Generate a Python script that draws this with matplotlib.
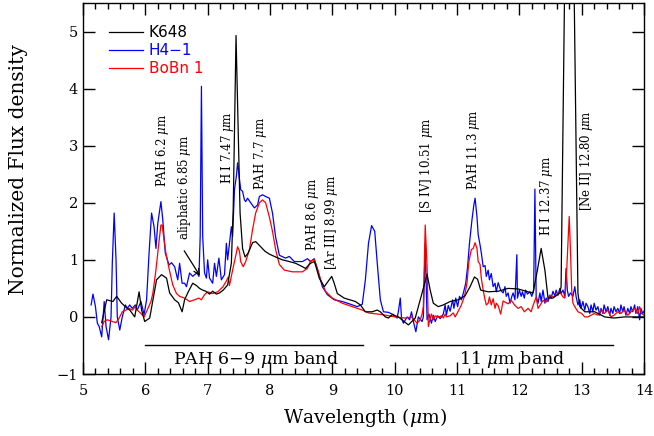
import matplotlib
matplotlib.use("Agg")
import matplotlib.pyplot as plt
from matplotlib.ticker import MultipleLocator, NullLocator

plt.rcParams['font.family'] = ['DejaVu Serif']
plt.rcParams['mathtext.fontset'] = 'dejavuserif'

# ---- K648 ----
k648_wl = [5.30, 5.38, 5.48, 5.54, 5.62, 5.70, 5.75, 5.83, 5.90, 5.94, 5.99, 6.07,
           6.18, 6.26, 6.34, 6.39, 6.47, 6.53, 6.59, 6.63, 6.68, 6.76, 6.82, 6.87,
           6.92, 6.97, 7.03, 7.08, 7.14, 7.19, 7.25, 7.32, 7.38, 7.41, 7.455, 7.52,
           7.56, 7.60, 7.65, 7.72, 7.77, 7.85, 7.92, 7.99, 8.09, 8.20, 8.31, 8.41,
           8.52, 8.57, 8.65, 8.71, 8.73, 8.79, 8.87, 8.95, 8.99, 9.03, 9.08, 9.19,
           9.37, 9.45, 9.53, 9.64, 9.72, 9.77, 9.85, 9.90, 9.96, 10.06, 10.22, 10.33,
           10.41, 10.52, 10.57, 10.62, 10.70, 10.78, 10.89, 11.02, 11.13, 11.21, 11.28,
           11.33, 11.38, 11.50, 11.66, 11.82, 11.98, 12.14, 12.22, 12.29, 12.35, 12.41,
           12.46, 12.54, 12.65, 12.67, 12.80, 12.94, 12.97, 13.05, 13.21, 13.37, 13.52,
           13.68, 13.84, 14.00]
k648_flux = [-0.10, 0.30, 0.27, 0.36, 0.24, 0.16, 0.12, 0.00, 0.44, 0.12, -0.08, -0.02,
             0.65, 0.74, 0.68, 0.42, 0.30, 0.25, 0.09, 0.30, 0.42, 0.59, 0.55, 0.50,
             0.47, 0.45, 0.40, 0.45, 0.40, 0.42, 0.47, 0.56, 0.94, 1.90, 4.93, 1.82,
             1.20, 1.05, 1.12, 1.30, 1.32, 1.23, 1.15, 1.10, 1.05, 1.00, 0.97, 0.94,
             0.88, 0.85, 0.94, 0.97, 0.91, 0.68, 0.53, 0.65, 0.71, 0.59, 0.41, 0.33,
             0.27, 0.21, 0.09, 0.09, 0.12, 0.09, 0.00, -0.02, 0.04, 0.00, -0.14, -0.02,
             0.30, 0.75, 0.47, 0.24, 0.18, 0.21, 0.27, 0.30, 0.37, 0.53, 0.70,
             0.66, 0.47, 0.44, 0.45, 0.50, 0.49, 0.44, 0.42, 0.82, 1.20, 0.82,
             0.33, 0.33, 0.42, 0.53, 12.60, 0.42, 0.18, 0.09, 0.09, 0.00, -0.02,
             0.00, 0.00, 0.00]

# ---- H4-1 ----
h41_wl = [5.13, 5.16, 5.20, 5.23, 5.26, 5.30, 5.34, 5.37, 5.41, 5.45, 5.47, 5.50,
          5.53, 5.55, 5.59, 5.63, 5.68, 5.71, 5.75, 5.79, 5.84, 5.87, 5.93, 5.98,
          6.02, 6.06, 6.10, 6.14, 6.17, 6.20, 6.25, 6.28, 6.32, 6.38, 6.42, 6.47,
          6.52, 6.55, 6.59, 6.63, 6.66, 6.71, 6.76, 6.79, 6.83, 6.86, 6.88, 6.90,
          6.92, 6.95, 6.98, 7.00, 7.03, 7.08, 7.11, 7.14, 7.18, 7.22, 7.27, 7.30,
          7.32, 7.35, 7.38, 7.40, 7.43, 7.46, 7.48, 7.53, 7.56, 7.59, 7.61, 7.64,
          7.69, 7.75, 7.80, 7.83, 7.88, 7.93, 7.99, 8.04, 8.09, 8.15, 8.25, 8.31,
          8.39, 8.52, 8.60, 8.65, 8.71, 8.76, 8.84, 8.92, 9.03, 9.16, 9.27, 9.40,
          9.48, 9.53, 9.58, 9.63, 9.68, 9.72, 9.77, 9.82, 9.90, 9.98, 10.04, 10.06,
          10.09, 10.11, 10.14, 10.20, 10.24, 10.27, 10.30, 10.34, 10.38, 10.44, 10.46,
          10.49, 10.52, 10.55, 10.59, 10.62, 10.65, 10.69, 10.73, 10.78, 10.81, 10.83,
          10.86, 10.89, 10.93, 10.95, 10.98, 11.01, 11.04, 11.07, 11.10, 11.14, 11.17,
          11.20, 11.24, 11.27, 11.29, 11.32, 11.34, 11.37, 11.39, 11.42, 11.45, 11.47,
          11.50, 11.52, 11.55, 11.58, 11.61, 11.63, 11.66, 11.70, 11.74, 11.77, 11.79,
          11.82, 11.85, 11.88, 11.90, 11.93, 11.96, 11.97, 12.00, 12.03, 12.05, 12.08,
          12.10, 12.13, 12.17, 12.20, 12.23, 12.25, 12.27, 12.30, 12.33, 12.35, 12.38,
          12.41, 12.43, 12.46, 12.49, 12.51, 12.54, 12.57, 12.59, 12.62, 12.65, 12.67,
          12.70, 12.73, 12.75, 12.77, 12.79, 12.82, 12.86, 12.89, 12.91, 12.94, 12.97,
          12.99, 13.02, 13.05, 13.07, 13.10, 13.13, 13.15, 13.18, 13.20, 13.23, 13.26,
          13.29, 13.31, 13.34, 13.36, 13.39, 13.42, 13.45, 13.47, 13.50, 13.52, 13.55,
          13.58, 13.61, 13.63, 13.66, 13.68, 13.71, 13.74, 13.77, 13.79, 13.82, 13.85,
          13.87, 13.90, 13.93, 13.95, 13.98, 14.00]
h41_flux = [0.21, 0.40, 0.18, -0.11, -0.17, -0.35, 0.27, -0.17, -0.40, 0.00, 0.94, 1.82,
            1.00, 0.00, -0.23, 0.00, 0.21, 0.15, 0.21, 0.15, 0.21, 0.12, 0.27, 0.04,
            0.30, 1.12, 1.82, 1.58, 1.20, 1.64, 2.02, 1.70, 1.12, 0.91, 0.95, 0.88,
            0.65, 0.94, 0.59, 0.59, 0.53, 0.77, 0.71, 0.74, 0.77, 0.71, 1.41, 4.04,
            1.41, 0.77, 0.68, 1.00, 0.68, 0.59, 0.94, 0.71, 1.03, 0.65, 0.74, 1.29,
            1.00, 1.29, 1.58, 1.41, 2.23, 2.46, 2.70, 2.23, 2.20, 2.05, 2.02, 2.08,
            2.00, 1.91, 1.96, 2.11, 2.14, 2.11, 2.08, 1.82, 1.40, 1.08, 1.03, 1.06,
            0.97, 0.97, 1.02, 0.97, 1.02, 0.84, 0.53, 0.39, 0.30, 0.27, 0.23, 0.18,
            0.22, 0.65, 1.29, 1.60, 1.50, 0.95, 0.30, 0.09, 0.08, 0.04, -0.02, 0.10,
            0.33, -0.02, -0.11, 0.00, -0.05, 0.09, -0.08, -0.26, 0.00, -0.08, 0.00,
            1.29, -0.05, 0.05, -0.11, 0.03, -0.08, 0.02, -0.03, 0.05, 0.21, 0.03,
            0.20, 0.10, 0.30, 0.15, 0.33, 0.18, 0.36, 0.30, 0.41, 0.59, 0.88,
            1.29, 1.70, 1.96, 2.08, 1.76, 1.44, 1.26, 1.12, 0.88, 0.90, 0.71,
            0.82, 0.65, 0.76, 0.53, 0.59, 0.44, 0.60, 0.47, 0.42, 0.53, 0.36,
            0.42, 0.24, 0.36, 0.42, 0.30, 1.09, 0.33, 0.47, 0.36, 0.44, 0.33,
            0.47, 0.40, 0.44, 0.36, 0.47, 2.24, 0.36, 0.24, 0.42, 0.27, 0.47,
            0.24, 0.33, 0.27, 0.38, 0.33, 0.45, 0.36, 0.47, 0.38, 0.50, 0.41,
            0.47, 0.36, 0.85, 0.47, 0.36, 0.42, 0.36, 0.53, 0.36, 0.21, 0.30,
            0.15, 0.27, 0.12, 0.24, 0.18, 0.06, 0.21, 0.09, 0.24, 0.12, 0.18,
            0.03, 0.15, 0.06, 0.21, 0.09, 0.18, 0.03, 0.15, 0.06, 0.18, 0.09,
            0.15, 0.06, 0.21, 0.09, 0.18, 0.03, 0.15, 0.06, 0.18, 0.09, 0.21,
            0.06, 0.18, -0.05, 0.15, 0.06, 0.10]

# ---- BoBn 1 ----
bobn1_wl = [5.30, 5.34, 5.39, 5.47, 5.53, 5.58, 5.63, 5.69, 5.74, 5.79, 5.84, 5.87,
            5.93, 5.98, 6.03, 6.09, 6.12, 6.17, 6.21, 6.25, 6.27, 6.30, 6.33, 6.38,
            6.44, 6.50, 6.55, 6.63, 6.71, 6.79, 6.86, 6.90, 6.95, 7.00, 7.08, 7.16,
            7.24, 7.30, 7.33, 7.35, 7.40, 7.46, 7.48, 7.51, 7.53, 7.57, 7.61, 7.67,
            7.72, 7.77, 7.83, 7.88, 7.93, 7.99, 8.04, 8.09, 8.15, 8.23, 8.36, 8.52,
            8.60, 8.65, 8.71, 8.76, 8.81, 8.89, 9.00, 9.16, 9.32, 9.48, 9.58, 9.80,
            10.01, 10.17, 10.27, 10.36, 10.41, 10.44, 10.46, 10.49, 10.52, 10.54, 10.57,
            10.59, 10.62, 10.65, 10.70, 10.76, 10.78, 10.81, 10.83, 10.89, 10.94, 10.97,
            11.02, 11.07, 11.12, 11.16, 11.19, 11.23, 11.26, 11.29, 11.32, 11.34, 11.37,
            11.39, 11.42, 11.45, 11.47, 11.50, 11.52, 11.55, 11.58, 11.61, 11.63, 11.66,
            11.70, 11.74, 11.77, 11.82, 11.87, 11.93, 11.98, 12.03, 12.08, 12.14, 12.19,
            12.22, 12.27, 12.30, 12.33, 12.38, 12.43, 12.49, 12.54, 12.59, 12.65, 12.70,
            12.73, 12.75, 12.78, 12.80, 12.82, 12.84, 12.86, 12.89, 12.94, 13.00, 13.05,
            13.10, 13.15, 13.20, 13.26, 13.31, 13.36, 13.42, 13.47, 13.52, 13.58, 13.63,
            13.68, 13.74, 13.79, 13.85, 13.90, 13.93, 13.96, 14.00]
bobn1_flux = [-0.17, -0.08, -0.05, -0.08, -0.10, -0.02, 0.09, 0.12, 0.15, 0.12, 0.18, 0.12,
              0.06, 0.00, 0.12, 0.27, 0.41, 0.82, 1.23, 1.61, 1.61, 1.35, 1.12, 0.85,
              0.56, 0.41, 0.36, 0.33, 0.27, 0.30, 0.33, 0.30, 0.39, 0.44, 0.41, 0.44,
              0.52, 0.63, 0.70, 0.55, 0.82, 1.12, 1.23, 1.15, 0.97, 0.88, 0.97, 1.18,
              1.53, 1.82, 2.00, 2.05, 2.00, 1.75, 1.50, 1.18, 0.92, 0.82, 0.79, 0.79,
              0.85, 0.98, 1.00, 0.85, 0.66, 0.45, 0.33, 0.24, 0.18, 0.12, 0.07, 0.04,
              0.00, -0.02, 0.00, -0.11, -0.05, 0.05, 0.18, 1.61, 0.88, -0.17, -0.02,
              0.05, -0.05, 0.02, 0.00, 0.02, -0.02, 0.05, 0.00, 0.02, 0.07, 0.00,
              0.10, 0.21, 0.36, 0.59, 0.97, 1.18, 1.20, 1.30, 1.20, 0.97, 0.92,
              0.68, 0.47, 0.30, 0.21, 0.24, 0.35, 0.21, 0.32, 0.15, 0.24, 0.20,
              0.05, 0.28, 0.26, 0.23, 0.29, 0.20, 0.15, 0.18, 0.09, 0.15, 0.09,
              0.20, 0.35, 0.15, 0.20, 0.29, 0.26, 0.38, 0.35, 0.38, 0.44, 0.35,
              0.33, 0.59, 1.29, 1.76, 1.18, 0.47, 0.24, 0.18, 0.09, 0.06, 0.00,
              0.00, 0.03, 0.06, 0.03, 0.12, 0.06, 0.12, 0.00, 0.03, 0.09, 0.06,
              0.12, 0.03, 0.09, 0.15, 0.06, 0.18, 0.06, 0.03]

# line identifications: (label, x, y of text base)
line_ids = [
    ("PAH 6.2 $\\mu$m", 6.28, 2.28),
    ("aliphatic 6.85 $\\mu$m", 6.63, 1.35),
    ("H I 7.47 $\\mu$m", 7.32, 2.33),
    ("PAH 7.7 $\\mu$m", 7.85, 2.23),
    ("PAH 8.6 $\\mu$m", 8.68, 1.15),
    ("[Ar III] 8.99 $\\mu$m", 8.98, 0.82),
    ("[S IV] 10.51 $\\mu$m", 10.51, 1.82),
    ("PAH 11.3 $\\mu$m", 11.27, 2.22),
    ("H I 12.37 $\\mu$m", 12.43, 1.41),
    ("[Ne II] 12.80 $\\mu$m", 13.07, 1.85),
]

# feature bands: (start, end, label, label centre)
bands = [
    (6.0, 9.5, "PAH 6$-$9 $\\mu$m band", 7.78),
    (9.93, 13.5, "11 $\\mu$m band", 11.88),
]
band_level = -0.5

fig = plt.figure(figsize=(6.54, 4.36), dpi=100)
ax = fig.add_axes([83 / 654, 62 / 436, 561 / 654, 371 / 436])

ax.plot(k648_wl, k648_flux, color='black', lw=0.9, label='K648', zorder=3)
ax.plot(h41_wl, h41_flux, color='#0000ff', lw=0.9, label='H4\u22121', zorder=2)
ax.plot(bobn1_wl, bobn1_flux, color='#ff0000', lw=0.9, label='BoBn 1', zorder=2.5)

for text, x, y in line_ids:
    ax.text(x, y, text, rotation=90, ha='center', va='bottom', fontsize=8.5)

ax.annotate("", xy=(6.90, 0.68), xytext=(6.60, 1.20),
            arrowprops=dict(arrowstyle='->', color='black', lw=0.9))

for x0, x1, text, xc in bands:
    ax.plot([x0, x1], [band_level, band_level], color='black', lw=1.0)
    ax.text(xc, band_level - 0.07, text, ha='center', va='top', fontsize=12.5)

ax.set_xlim(5, 14)
ax.set_ylim(-1, 5.5)
ax.xaxis.set_major_locator(MultipleLocator(1))
ax.xaxis.set_minor_locator(MultipleLocator(0.2))
ax.yaxis.set_major_locator(MultipleLocator(1))
ax.yaxis.set_minor_locator(NullLocator())
ax.tick_params(which='both', direction='in', top=True, right=True, labelsize=10.5)
ax.tick_params(which='major', length=8.5, width=1.0)
ax.tick_params(which='minor', length=4, width=1.0)
ax.tick_params(axis='x', pad=7)
for sp in ax.spines.values():
    sp.set_linewidth(1.0)

ax.set_xlabel("Wavelength ($\\mu$m)", fontsize=13.5)
ax.set_ylabel("Normalized Flux density", fontsize=14.5)
ax.xaxis.set_label_coords(0.503, -0.085)
ax.yaxis.set_label_coords(-0.098, 0.55)

leg = ax.legend(loc='upper left', bbox_to_anchor=(0.03, 0.965), frameon=False,
                labelcolor='linecolor', handlelength=2.2, handletextpad=0.4,
                labelspacing=0.2, borderaxespad=0.2,
                prop={'family': 'DejaVu Sans', 'size': 11})

fig.savefig("out.png", dpi=100)
